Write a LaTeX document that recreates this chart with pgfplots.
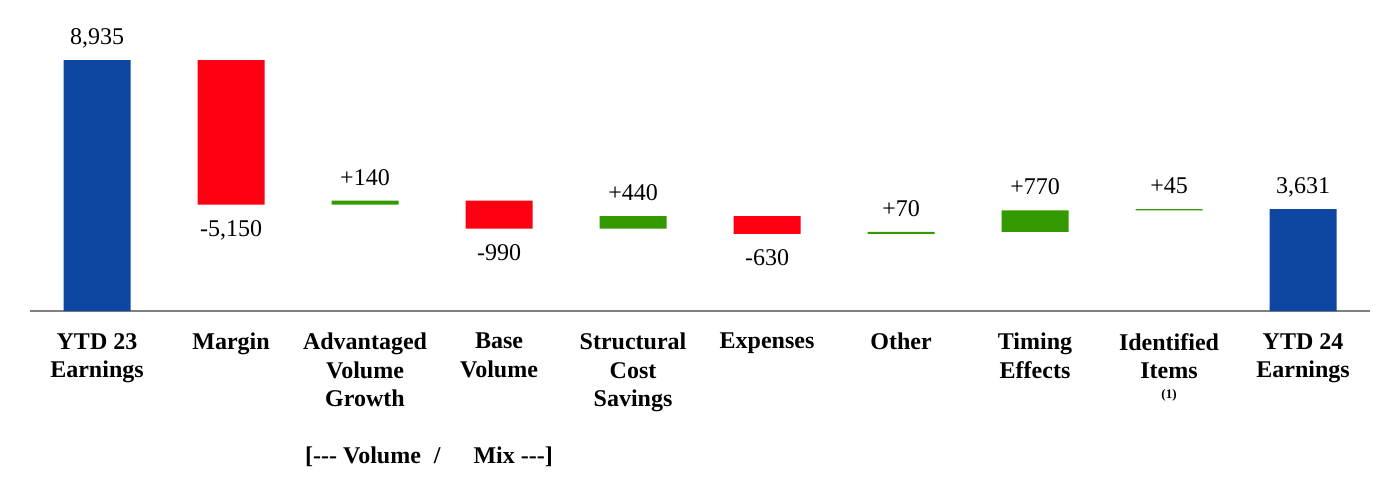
\documentclass[border=0pt]{standalone}
\usepackage{fontspec}
\setmainfont{Liberation Serif}
\usepackage{pgfplots}
\pgfplotsset{compat=1.18}
\definecolor{wfblue}{RGB}{14,71,161}
\definecolor{wfred}{RGB}{255,0,18}
\definecolor{wfgreen}{RGB}{51,153,0}
\definecolor{axisgray}{RGB}{128,128,128}

\begin{document}
\begin{tikzpicture}
\useasboundingbox (-30bp,-189bp) rectangle (1370bp,311bp);
\begin{axis}[
    at={(0,0)}, anchor=south west,
    scale only axis,
    width=1340bp, height=280.9bp,
    xmin=-0.5, xmax=9.5, ymin=0, ymax=10000,
    ybar stacked, bar width=0.5,
    axis y line=none, axis x line*=bottom,
    x axis line style={axisgray, line width=2bp, -},
    xtick={0,...,9}, major tick length=0pt,
    xticklabels={{YTD 23\\Earnings}, Margin, {Advantaged\\Volume\\Growth}, {Base\\Volume},
        {Structural\\Cost\\Savings}, Expenses, Other, {Timing\\Effects},
        {Identified\\Items\\[-9bp]{\fontsize{13bp}{13bp}\selectfont(1)}}, {YTD 24\\Earnings}},
    xticklabel style={font=\fontsize{24bp}{28.5bp}\selectfont\bfseries, align=center,
        anchor=north, inner sep=0pt, yshift=-22bp},
    clip=false,
]

% invisible base of the floating bars
\addplot[fill=none, draw=none] coordinates {
    (0,0) (1,3785) (2,3785) (3,2935) (4,2935) (5,2745) (6,2745) (7,2815) (8,3585) (9,0)
};
% increases
\addplot[fill=wfgreen, draw=none] coordinates {
    (0,0) (1,0) (2,140) (3,0) (4,440) (5,0) (6,70) (7,770) (8,45) (9,0)
};
% decreases
\addplot[fill=wfred, draw=none] coordinates {
    (0,0) (1,5150) (2,0) (3,990) (4,0) (5,630) (6,0) (7,0) (8,0) (9,0)
};
% totals
\addplot[fill=wfblue, draw=none] coordinates {
    (0,8935) (1,0) (2,0) (3,0) (4,0) (5,0) (6,0) (7,0) (8,0) (9,3631)
};

\tikzset{vlab/.style={font=\fontsize{24bp}{28bp}\selectfont, anchor=base, inner sep=0pt}}
\node[vlab, yshift=15.5bp] at (axis cs:0,8935) {8,935};
\node[vlab, yshift=-32bp] at (axis cs:1,3785) {-5,150};
\node[vlab, yshift=15.5bp] at (axis cs:2,3925) {+140};
\node[vlab, yshift=-32bp] at (axis cs:3,2935) {-990};
\node[vlab, yshift=15.5bp] at (axis cs:4,3375) {+440};
\node[vlab, yshift=-32bp] at (axis cs:5,2745) {-630};
\node[vlab, yshift=15.5bp] at (axis cs:6,2815) {+70};
\node[vlab, yshift=15.5bp] at (axis cs:7,3585) {+770};
\node[vlab, yshift=15.5bp] at (axis cs:8,3630) {+45};
\node[vlab, yshift=15.5bp] at (axis cs:9,3631) {3,631};

\node[font=\fontsize{24bp}{28bp}\selectfont\bfseries, anchor=base west, inner sep=0pt, yshift=-152.5bp]
    at (axis cs:1.552,0) {[-{}-{}- Volume\hspace{13bp}/\hspace{33bp}Mix -{}-{}-]};
\end{axis}
\end{tikzpicture}
\end{document}
